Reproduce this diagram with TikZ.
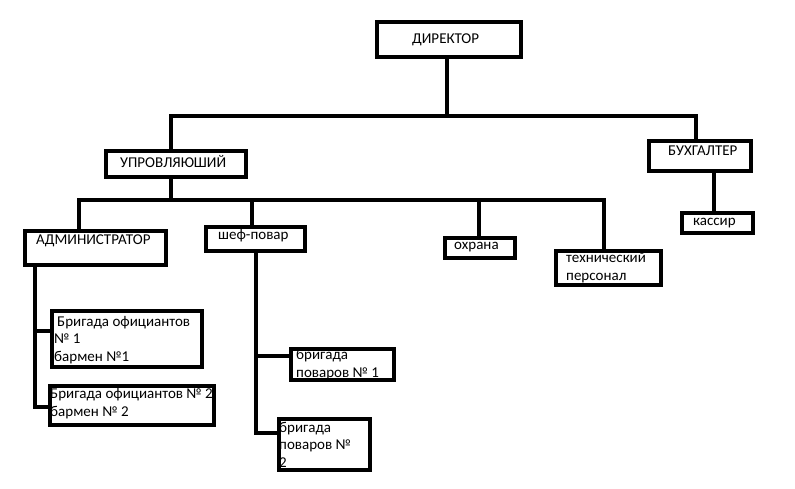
\documentclass[tikz,border=0pt]{standalone}
\usepackage{fontspec}
\setmainfont{Carlito}
\usepackage{tikz}

\begin{document}
\begin{tikzpicture}[
  x=1pt, y=-1pt,
  box/.style={draw, line width=3.5pt, inner sep=0pt},
  conn/.style={line width=3.5pt},
  lbl/.style={anchor=base west, inner sep=0pt, align=left, font=\fontsize{15}{17.5}\selectfont}
]
\useasboundingbox (0,0) rectangle (795,488);
\node[box, minimum width=144, minimum height=35] (dir) at (449,39.5) {};
\node[box, minimum width=140, minimum height=26] (upr) at (176,164) {};
\node[box, minimum width=102, minimum height=30] (buh) at (700,156) {};
\node[box, minimum width=141, minimum height=34] (adm) at (95.5,248) {};
\node[box, minimum width=99, minimum height=24] (shef) at (255.5,239) {};
\node[box, minimum width=70, minimum height=20] (ohr) at (480,248) {};
\node[box, minimum width=105, minimum height=34] (tech) at (608.5,268) {};
\node[box, minimum width=71, minimum height=20] (kas) at (717.5,223) {};
\node[box, minimum width=150, minimum height=56] (of1) at (127,339) {};
\node[box, minimum width=164, minimum height=39] (of2) at (132,405.5) {};
\node[box, minimum width=103, minimum height=31] (pov1) at (342.5,364.5) {};
\node[box, minimum width=91, minimum height=51] (pov2) at (324.5,444.5) {};

\node[lbl] (dir-t) at (412,43) {ДИРЕКТОР};
\node[lbl] (upr-t) at (120,167) {УПРОВЛЯЮШИЙ};
\node[lbl] (buh-t) at (668,155) {БУХГАЛТЕР};
\node[lbl] (adm-t) at (36,244) {АДМИНИСТРАТОР};
\node[lbl] (shef-t) at (218,239) {шеф-повар};
\node[lbl] (ohr-t) at (454,249) {охрана};
\node[lbl] (tech-t) at (566,280) {технический\\персонал};
\node[lbl] (kas-t) at (693,225) {кассир};
\node[lbl] (of1-t) at (54,361) {\hspace{3pt}Бригада официантов\\№ 1\\бармен №1};
\node[lbl] (of2-t) at (50,416) {Бригада официантов № 2\\бармен № 2};
\node[lbl] (pov1-t) at (296,377) {бригада\\поваров № 1};
\node[lbl] (pov2-t) at (279,467) {бригада\\поваров №\\2};

\coordinate (j0) at (447,116);
\coordinate (jl) at (171,116);
\coordinate (jr) at (696,116);
\coordinate (k0) at (171,200);
\coordinate (ka) at (79,200);
\coordinate (ks) at (252,200);
\coordinate (ko) at (479,200);
\coordinate (kt) at (604,200);
\coordinate (bk) at (714,200);
\coordinate (a1) at (35,331);
\coordinate (a2) at (35,407);
\coordinate (s1) at (256,356);
\coordinate (s2) at (256,433);

\draw[conn] (dir.south -| j0) -- (j0);
\draw[conn] (upr.north -| jl) -- (jl) -- (jr) -- (buh.north -| jr);
\draw[conn] (upr.south -| k0) -- (k0);
\draw[conn] (adm.north -| ka) -- (ka) -- (kt) -- (tech.north -| kt);
\draw[conn] (shef.north -| ks) -- (ks);
\draw[conn] (ohr.north -| ko) -- (ko);
\draw[conn] (buh.south -| bk) -- (kas.north -| bk);
\draw[conn] (adm.south -| a2) -- (a2) -- (of2.west |- a2);
\draw[conn] (a1) -- (of1.west |- a1);
\draw[conn] (shef.south -| s2) -- (s2) -- (pov2.west |- s2);
\draw[conn] (s1) -- (pov1.west |- s1);
\end{tikzpicture}
\end{document}
